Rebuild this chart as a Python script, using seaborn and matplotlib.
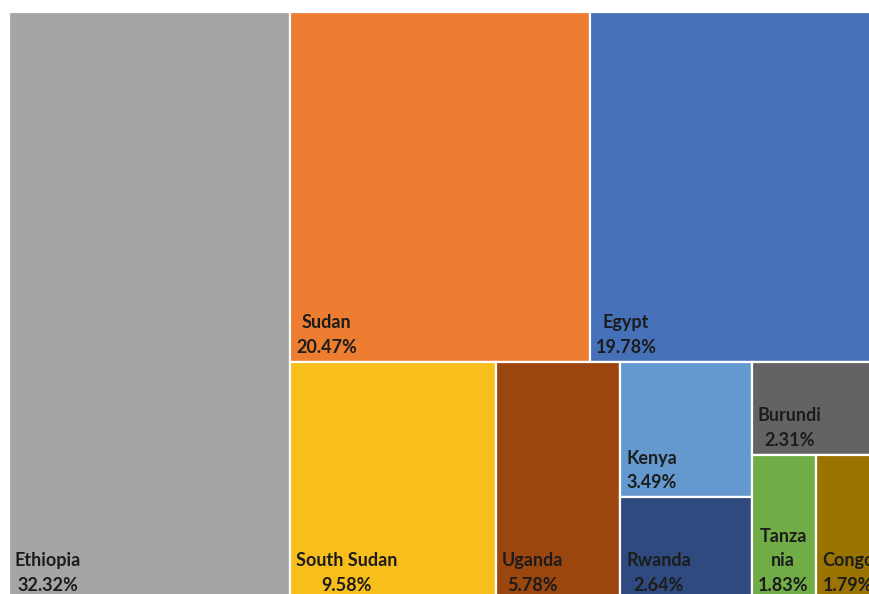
import matplotlib
matplotlib.use("Agg")
import matplotlib.pyplot as plt
from matplotlib.patches import Rectangle
import seaborn as sns

# Shares of the Nile basin by country (%)
countries = ["Ethiopia", "Sudan", "Egypt", "South Sudan", "Uganda",
             "Kenya", "Rwanda", "Burundi", "Tanzania", "Congo"]
tile_labels = ["Ethiopia", "Sudan", "Egypt", "South Sudan", "Uganda",
               "Kenya", "Rwanda", "Burundi", "Tanza\nnia", "Congo"]
shares = [32.32, 20.47, 19.78, 9.58, 5.78, 3.49, 2.64, 2.31, 1.83, 1.79]
tile_colors = ["#A5A5A5", "#ED7D31", "#4670B8", "#F8BE1C", "#9C460F",
               "#6399CE", "#2E4A7E", "#636363", "#70AD47", "#9A7300"]

# Nesting of the treemap: "h" places children side by side,
# "v" stacks them from top to bottom; leaves are indices into the lists.
layout = ("h", [0, ("v", [("h", [1, 2]),
                          ("h", [3, 4, ("v", [5, 6]),
                                 ("v", [7, ("h", [8, 9])])])])])


def node_total(node):
    if isinstance(node, int):
        return shares[node]
    return sum(node_total(c) for c in node[1])


def place(node, x, y, w, h, out):
    if isinstance(node, int):
        out[node] = (x, y, w, h)
        return
    direction, children = node
    tot = node_total(node)
    for child in children:
        frac = node_total(child) / tot
        if direction == "h":
            place(child, x, y, w * frac, h, out)
            x += w * frac
        else:
            place(child, x, y, w, h * frac, out)
            y += h * frac


sns.set_theme(style="white")
plt.rcParams["font.family"] = ["Lato", "DejaVu Sans"]

fig = plt.figure(figsize=(8.70, 5.94), dpi=100)
fig.patch.set_facecolor("white")
ax = fig.add_axes([9 / 870, -6 / 594, 870 / 870, 588 / 594])
ax.set_xlim(0, 1)
ax.set_ylim(1, 0)
ax.axis("off")

rects = {}
place(layout, 0.0, 0.0, 1.0, 1.0, rects)

for i, (x, y, w, h) in sorted(rects.items()):
    ax.add_patch(Rectangle((x, y), w, h, facecolor=tile_colors[i],
                           edgecolor="white", linewidth=1.6))
    ax.annotate(f"{tile_labels[i]}\n{shares[i]:.2f}%",
                xy=(x, y + h), xytext=(6, 6), textcoords="offset pixels",
                ha="left", va="bottom", multialignment="center",
                fontsize=13, fontweight="bold", color="#1c1c1c",
                linespacing=1.55, annotation_clip=False)

fig.savefig("out.png", dpi=100, facecolor="white")
